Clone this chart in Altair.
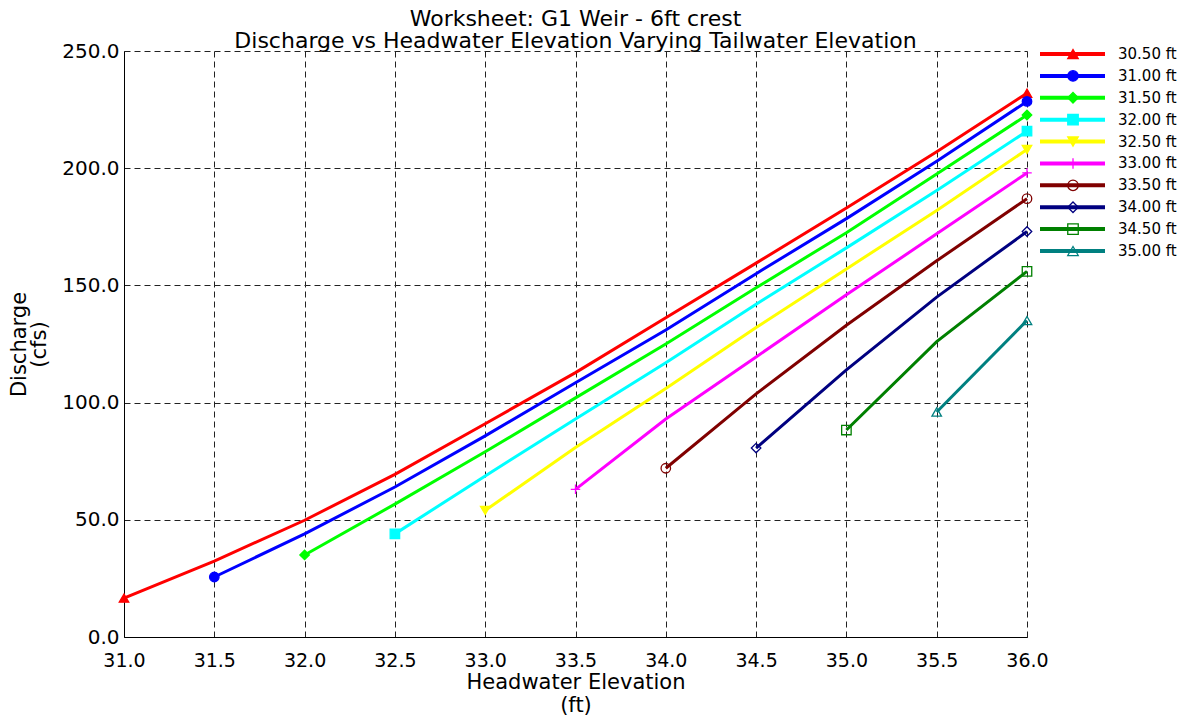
import altair as alt
import pandas as pd

headwater = [31.0, 31.5, 32.0, 32.5, 33.0, 33.5, 34.0, 34.5, 35.0, 35.5, 36.0]
tailwater = ["30.50 ft", "31.00 ft", "31.50 ft", "32.00 ft", "32.50 ft",
             "33.00 ft", "33.50 ft", "34.00 ft", "34.50 ft", "35.00 ft"]

q_3050 = [16.6, 32.4, 49.8, 69.4, 91.0, 112.8, 136.2, 159.5, 183.0, 207.0, 232.0]
q_3100 = [25.6, 44.0, 64.0, 85.8, 108.5, 131.0, 155.0, 178.5, 203.0, 228.5]
q_3150 = [35.0, 56.7, 79.0, 102.0, 125.0, 149.0, 172.5, 197.5, 222.7]
q_3200 = [44.0, 68.7, 93.0, 117.0, 142.0, 166.0, 190.5, 215.8]
q_3250 = [54.0, 80.8, 106.0, 132.0, 157.0, 182.0, 208.0]
q_3300 = [63.0, 93.0, 119.5, 146.0, 172.0, 198.0]
q_3350 = [72.0, 103.7, 133.0, 160.5, 187.0]
q_3400 = [80.6, 114.0, 145.0, 173.0]
q_3450 = [88.3, 126.0, 156.0]
q_3500 = [96.0, 135.0]

series_values = [q_3050, q_3100, q_3150, q_3200, q_3250,
                 q_3300, q_3350, q_3400, q_3450, q_3500]

colors = ["#FF0000", "#0000FF", "#00FF00", "#00FFFF", "#FFFF00",
          "#FF00FF", "#800000", "#000080", "#008000", "#008080"]
shapes = ["triangle-up", "circle", "diamond", "square", "triangle-down",
          "M-1,0L1,0M0,-1L0,1", "circle", "diamond", "square", "triangle-up"]
filled = [True, True, True, True, True, False, False, False, False, False]

rows = []
for name, vals, col, fl in zip(tailwater, series_values, colors, filled):
    hw = headwater[len(headwater) - len(vals):]
    for i, (h, q) in enumerate(zip(hw, vals)):
        rows.append({"series": name, "hw": h, "q": q,
                     "end": i == 0 or i == len(vals) - 1,
                     "fillc": col if fl else "transparent"})
df = pd.DataFrame(rows)

leg = pd.DataFrame({"series": tailwater,
                    "fillc": [c if f else "transparent" for c, f in zip(colors, filled)]})

FONT = "DejaVu Sans"
color_scale = alt.Scale(domain=tailwater, range=colors)
shape_scale = alt.Scale(domain=tailwater, range=shapes)

base = alt.Chart(df)
x = alt.X("hw:Q", scale=alt.Scale(domain=[31, 36], nice=False),
          axis=alt.Axis(values=headwater, format=".1f", labelFlush=False,
                        title=["Headwater Elevation", "(ft)"]))
y = alt.Y("q:Q", scale=alt.Scale(domain=[0, 250], nice=False),
          axis=alt.Axis(values=[0, 50, 100, 150, 200, 250], format=".1f",
                        labelFlush=False, title=["Discharge", "(cfs)"]))

lines = base.mark_line(strokeWidth=3).encode(
    x=x, y=y,
    color=alt.Color("series:N", scale=color_scale, legend=None),
    order="hw:Q",
)
points = base.transform_filter(alt.datum.end).mark_point(
    size=90, strokeWidth=1.3, opacity=1, fillOpacity=1
).encode(
    x="hw:Q", y="q:Q",
    shape=alt.Shape("series:N", scale=shape_scale, legend=None),
    stroke=alt.Stroke("series:N", scale=color_scale, legend=None),
    fill=alt.Fill("fillc:N", scale=None),
)

main = alt.layer(lines, points).properties(
    width=903, height=586,
    title=alt.TitleParams(
        ["Worksheet: G1 Weir - 6ft crest",
         "Discharge vs Headwater Elevation Varying Tailwater Elevation"],
        font=FONT, fontSize=22, fontWeight="normal", lineHeight=22,
        anchor="middle", frame="group", color="black", offset=0, dy=12),
)

ly = alt.Y("series:N", sort=tailwater,
           scale=alt.Scale(type="point", domain=tailwater, range=[3, 200], padding=0),
           axis=None)
lbase = alt.Chart(leg)
lrule = lbase.mark_rule(strokeWidth=4).encode(
    x=alt.value(0), x2=alt.value(65), y=ly,
    color=alt.Color("series:N", scale=color_scale, legend=None))
lpt = lbase.mark_point(size=110, strokeWidth=1.3, opacity=1, fillOpacity=1).encode(
    x=alt.value(33), y=ly,
    shape=alt.Shape("series:N", scale=shape_scale, legend=None),
    stroke=alt.Stroke("series:N", scale=color_scale, legend=None),
    fill=alt.Fill("fillc:N", scale=None))
ltext = lbase.mark_text(align="left", baseline="middle", font=FONT,
                        fontSize=15, color="black").encode(
    x=alt.value(78), y=ly, text="series:N")
legend = alt.layer(lrule, lpt, ltext).properties(width=140, height=586)

chart = alt.hconcat(main, legend, spacing=13, bounds="flush").properties(
    padding={"left": 0, "top": 0, "right": 0, "bottom": 0}
).configure_view(stroke=None).configure_axis(
    labelFont=FONT, labelFontSize=20, labelColor="black",
    titleFont=FONT, titleFontSize=21, titleFontWeight="normal", titleColor="black",
    grid=True, gridColor="#222222", gridDash=[6, 4], gridWidth=1,
    domainColor="black", domainWidth=1, tickSize=0,
).configure_axisX(
    labelFontSize=19, labelPadding=14, titlePadding=1, titleLineHeight=23,
).configure_axisY(
    labelPadding=5, titlePadding=12, titleLineHeight=20,
)

chart.save("out.html", embed_options={"renderer": "svg", "actions": False})
